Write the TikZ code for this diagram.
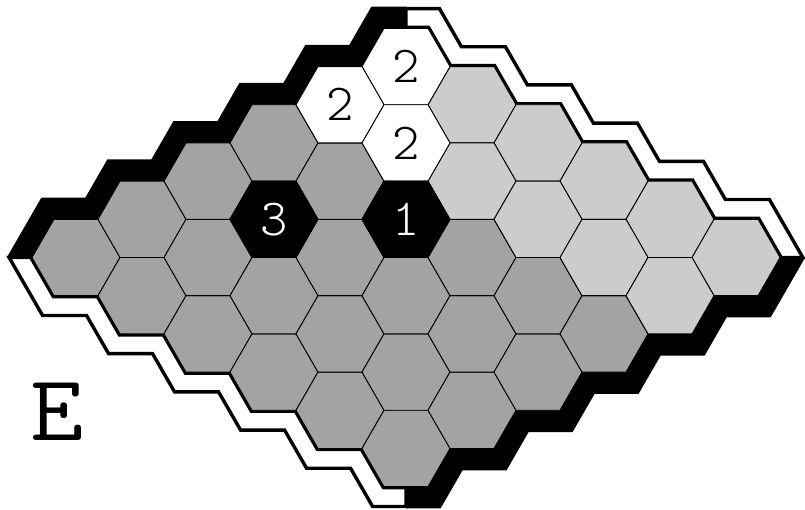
\documentclass[tikz,border=0pt]{standalone}
\usepackage{graphicx}
\definecolor{darkcell}{HTML}{A3A3A3}
\definecolor{lightcell}{HTML}{CCCCCC}
\tikzset{
  cellstyle/.style={draw=black, line width=0.9pt, line join=miter},
  whiteband/.style={fill=white, draw=black, line width=3.4pt, line join=miter},
  blackband/.style={fill=black},
  darkdigit/.style={text=black, inner sep=0pt, font=\ttfamily\fontseries{l}\fontsize{52}{52}\selectfont},
  lightdigit/.style={text=white, inner sep=0pt, font=\ttfamily\fontseries{l}\fontsize{52}{52}\selectfont}
}
% one hexagon (flat top) centred at (#1,#2), filled with #3
\newcommand\hexcell[3]{%
  \filldraw[cellstyle, fill=#3] ({#1+44},{#2}) -- ({#1+22},{#2+38.19}) -- ({#1-22},{#2+38.19})
    -- ({#1-44},{#2}) -- ({#1-22},{#2-38.19}) -- ({#1+22},{#2-38.19}) -- cycle;}
% band along the upper-left side, relative to the board centre; #1 inner offset, #2 outer offset
\newcommand\bandpath[2]{%
  ({-374-1.1547*(#1)}, 0)
  \foreach \k in {0,...,4}{
    -- ({66*(\k-5)-22-0.57735*(#1)}, {-38.19*(\k+1)-(#1)})
    -- ({66*(\k-4)-44-0.57735*(#1)}, {-38.19*(\k+1)-(#1)})
  }
  -- ({-22-0.57735*(#1)}, {-229.14-(#1)})
  -- (0, {-229.14-(#1)})
  -- (0, {-229.14-(#2)})
  -- ({-22-0.57735*(#2)}, {-229.14-(#2)})
  \foreach \k in {4,3,...,0}{
    -- ({66*(\k-4)-44-0.57735*(#2)}, {-38.19*(\k+1)-(#2)})
    -- ({66*(\k-5)-22-0.57735*(#2)}, {-38.19*(\k+1)-(#2)})
  }
  -- ({-374-1.1547*(#2)}, 0) -- cycle}
\begin{document}
\begin{tikzpicture}[x=1pt, y=-1pt]
\useasboundingbox (0,0) rectangle (805,509);
% white bands (upper right, lower left)
\begin{scope}[shift={(406,257.5)}, xscale=-1]
  \path[whiteband] \bandpath{1}{19.8};
\end{scope}
\begin{scope}[shift={(406,257.5)}, yscale=-1]
  \path[whiteband] \bandpath{1}{19.8};
\end{scope}
% black bands (upper left, lower right)
\begin{scope}[shift={(406,257.5)}]
  \path[blackband] \bandpath{-2}{21.8};
\end{scope}
\begin{scope}[shift={(406,257.5)}, xscale=-1, yscale=-1]
  \path[blackband] \bandpath{-2}{21.8};
\end{scope}
% cells
\foreach \i in {0,...,5}{
  \foreach \j in {0,...,5}{
    \pgfmathsetmacro\cx{406+66*(\i+\j-5)}
    \pgfmathsetmacro\cy{257.5+38.19*(\j-\i)}
    \hexcell{\cx}{\cy}{darkcell}
  }
}
\foreach \i/\j in {5/1,5/2,5/3,5/4,5/5,4/2,4/3,4/4,4/5}{
  \pgfmathsetmacro\cx{406+66*(\i+\j-5)}
  \pgfmathsetmacro\cy{257.5+38.19*(\j-\i)}
  \hexcell{\cx}{\cy}{lightcell}
}
\foreach \i/\j in {5/0,4/0,4/1}{
  \pgfmathsetmacro\cx{406+66*(\i+\j-5)}
  \pgfmathsetmacro\cy{257.5+38.19*(\j-\i)}
  \hexcell{\cx}{\cy}{white}
}
\foreach \i/\j in {2/1,3/2}{
  \pgfmathsetmacro\cx{406+66*(\i+\j-5)}
  \pgfmathsetmacro\cy{257.5+38.19*(\j-\i)}
  \hexcell{\cx}{\cy}{black}
}
% labels
\node[darkdigit] (d50) at (406,66.55) {2};
\node[darkdigit] (d40) at (340,104.74) {2};
\node[darkdigit] (d41) at (406,142.93) {2};
\node[lightdigit] (d21) at (274,219.31) {3};
\node[lightdigit] (d32) at (406,219.31) {1};
\node[inner sep=0pt] (elabel) at (56.7,411.7) {\ttfamily\fontsize{94}{94}\selectfont\scalebox{1.1}[1]{E}};
\end{tikzpicture}
\end{document}
